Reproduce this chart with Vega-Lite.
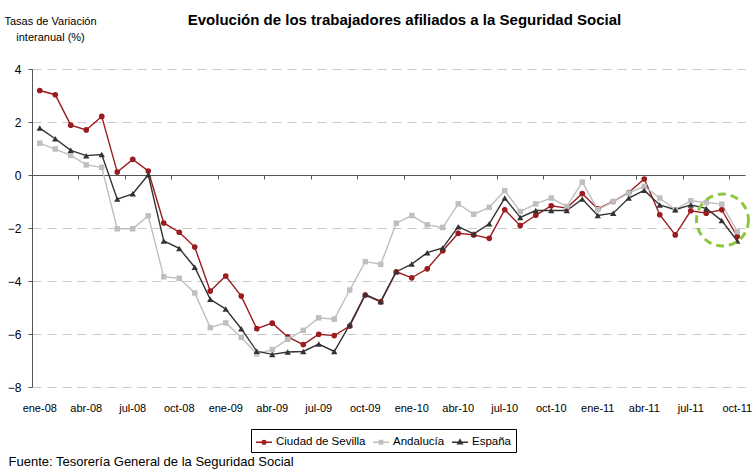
{
  "$schema": "https://vega.github.io/schema/vega-lite/v6.json",
  "autosize": "none",
  "width": 713,
  "height": 318,
  "padding": {"left": 32, "top": 69, "right": 11, "bottom": 84},
  "background": "white",
  "config": {"font": "Liberation Sans", "view": {"stroke": null}},
  "title": {
    "text": "Evolución de los trabajadores afiliados a la Seguridad Social",
    "fontSize": 15, "fontWeight": "bold", "color": "#000",
    "anchor": "middle", "frame": "group", "dx": 16, "baseline": "alphabetic", "offset": -25
  },
  "data": {
    "values": [
      {"mes": "ene-08", "Ciudad de Sevilla": 3.19, "Andalucía": 1.20, "España": 1.77},
      {"mes": "feb-08", "Ciudad de Sevilla": 3.03, "Andalucía": 0.98, "España": 1.37},
      {"mes": "mar-08", "Ciudad de Sevilla": 1.88, "Andalucía": 0.74, "España": 0.93},
      {"mes": "abr-08", "Ciudad de Sevilla": 1.70, "Andalucía": 0.38, "España": 0.73},
      {"mes": "may-08", "Ciudad de Sevilla": 2.21, "Andalucía": 0.29, "España": 0.77},
      {"mes": "jun-08", "Ciudad de Sevilla": 0.11, "Andalucía": -2.03, "España": -0.91},
      {"mes": "jul-08", "Ciudad de Sevilla": 0.59, "Andalucía": -2.03, "España": -0.71},
      {"mes": "ago-08", "Ciudad de Sevilla": 0.15, "Andalucía": -1.54, "España": 0.01},
      {"mes": "sep-08", "Ciudad de Sevilla": -1.81, "Andalucía": -3.84, "España": -2.49},
      {"mes": "oct-08", "Ciudad de Sevilla": -2.16, "Andalucía": -3.90, "España": -2.77},
      {"mes": "nov-08", "Ciudad de Sevilla": -2.72, "Andalucía": -4.45, "España": -3.48},
      {"mes": "dic-08", "Ciudad de Sevilla": -4.38, "Andalucía": -5.76, "España": -4.69},
      {"mes": "ene-09", "Ciudad de Sevilla": -3.81, "Andalucía": -5.58, "España": -5.06},
      {"mes": "feb-09", "Ciudad de Sevilla": -4.57, "Andalucía": -6.13, "España": -5.80},
      {"mes": "mar-09", "Ciudad de Sevilla": -5.80, "Andalucía": -6.75, "España": -6.65},
      {"mes": "abr-09", "Ciudad de Sevilla": -5.59, "Andalucía": -6.59, "España": -6.77},
      {"mes": "may-09", "Ciudad de Sevilla": -6.11, "Andalucía": -6.20, "España": -6.68},
      {"mes": "jun-09", "Ciudad de Sevilla": -6.40, "Andalucía": -5.86, "España": -6.66},
      {"mes": "jul-09", "Ciudad de Sevilla": -6.01, "Andalucía": -5.39, "España": -6.38},
      {"mes": "ago-09", "Ciudad de Sevilla": -6.06, "Andalucía": -5.44, "España": -6.66},
      {"mes": "sep-09", "Ciudad de Sevilla": -5.70, "Andalucía": -4.34, "España": -5.65},
      {"mes": "oct-09", "Ciudad de Sevilla": -4.53, "Andalucía": -3.27, "España": -4.51},
      {"mes": "nov-09", "Ciudad de Sevilla": -4.79, "Andalucía": -3.37, "España": -4.77},
      {"mes": "dic-09", "Ciudad de Sevilla": -3.65, "Andalucía": -1.82, "España": -3.65},
      {"mes": "ene-10", "Ciudad de Sevilla": -3.88, "Andalucía": -1.53, "España": -3.36},
      {"mes": "feb-10", "Ciudad de Sevilla": -3.54, "Andalucía": -1.88, "España": -2.93},
      {"mes": "mar-10", "Ciudad de Sevilla": -2.86, "Andalucía": -1.98, "España": -2.75},
      {"mes": "abr-10", "Ciudad de Sevilla": -2.20, "Andalucía": -1.09, "España": -1.95},
      {"mes": "may-10", "Ciudad de Sevilla": -2.26, "Andalucía": -1.48, "España": -2.22},
      {"mes": "jun-10", "Ciudad de Sevilla": -2.39, "Andalucía": -1.22, "España": -1.84},
      {"mes": "jul-10", "Ciudad de Sevilla": -1.31, "Andalucía": -0.59, "España": -0.87},
      {"mes": "ago-10", "Ciudad de Sevilla": -1.91, "Andalucía": -1.38, "España": -1.60},
      {"mes": "sep-10", "Ciudad de Sevilla": -1.52, "Andalucía": -1.09, "España": -1.34},
      {"mes": "oct-10", "Ciudad de Sevilla": -1.16, "Andalucía": -0.87, "España": -1.34},
      {"mes": "nov-10", "Ciudad de Sevilla": -1.25, "Andalucía": -1.19, "España": -1.34},
      {"mes": "dic-10", "Ciudad de Sevilla": -0.70, "Andalucía": -0.27, "España": -0.91},
      {"mes": "ene-11", "Ciudad de Sevilla": -1.28, "Andalucía": -1.31, "España": -1.53},
      {"mes": "feb-11", "Ciudad de Sevilla": -1.00, "Andalucía": -1.00, "España": -1.44},
      {"mes": "mar-11", "Ciudad de Sevilla": -0.66, "Andalucía": -0.68, "España": -0.87},
      {"mes": "abr-11", "Ciudad de Sevilla": -0.15, "Andalucía": -0.43, "España": -0.58},
      {"mes": "may-11", "Ciudad de Sevilla": -1.50, "Andalucía": -0.87, "España": -1.13},
      {"mes": "jun-11", "Ciudad de Sevilla": -2.26, "Andalucía": -1.31, "España": -1.31},
      {"mes": "jul-11", "Ciudad de Sevilla": -1.35, "Andalucía": -0.97, "España": -1.13},
      {"mes": "ago-11", "Ciudad de Sevilla": -1.44, "Andalucía": -1.04, "España": -1.26},
      {"mes": "sep-11", "Ciudad de Sevilla": -1.31, "Andalucía": -1.10, "España": -1.72},
      {"mes": "oct-11", "Ciudad de Sevilla": -2.32, "Andalucía": -2.14, "España": -2.49}
    ]
  },
  "transform": [{"fold": ["Ciudad de Sevilla", "Andalucía", "España"], "as": ["serie", "valor"]}],
  "layer": [
    {
      "mark": {"type": "line", "strokeWidth": 1.4},
      "encoding": {
        "x": {
          "field": "mes", "type": "ordinal", "sort": null,
          "scale": {"type": "band", "paddingInner": 0, "paddingOuter": 0},
          "axis": {
            "orient": "bottom", "offset": -212,
            "values": ["ene-08","abr-08","jul-08","oct-08","ene-09","abr-09","jul-09","oct-09","ene-10","abr-10","jul-10","oct-10","ene-11","abr-11","jul-11","oct-11"],
            "bandPosition": 0, "labels": false, "ticks": true, "tickSize": 4, "tickColor": "#555",
            "domain": true, "domainColor": "#555", "domainWidth": 1, "grid": false, "title": null
          }
        },
        "y": {
          "field": "valor", "type": "quantitative",
          "scale": {"domain": [-8, 4], "nice": false, "zero": false},
          "axis": {
            "values": [-8, -6, -4, -2, 0, 2, 4],
            "domain": true, "domainColor": "#555", "tickColor": "#555", "tickSize": 4,
            "labelPadding": 7, "labelFontSize": 12, "labelColor": "#000",
            "grid": true, "gridDash": [9, 6], "gridColor": "#c8c8c8",
            "title": ["Tasas de Variación", "interanual (%)"],
            "titleAngle": 0, "titleAlign": "center", "titleBaseline": "alphabetic",
            "titleX": 18, "titleY": -45, "titleFontSize": 11, "titleFontWeight": "normal",
            "titleColor": "#000", "titleLineHeight": 16
          }
        },
        "color": {
          "field": "serie", "type": "nominal",
          "scale": {"domain": ["Ciudad de Sevilla", "Andalucía", "España"], "range": ["#9b1b1e", "#bfbfbf", "#333333"]},
          "legend": {
            "orient": "none", "legendX": 219, "legendY": 360, "direction": "horizontal",
            "title": null, "strokeColor": "#000", "fillColor": "#fff", "padding": 4,
            "labelFontSize": 11.5, "labelColor": "#000", "labelOffset": 3, "columnPadding": 3,
            "symbolSize": 256, "symbolStrokeWidth": 1.6
          }
        }
      }
    },
    {
      "transform": [{"filter": "datum.valor > 100"}],
      "mark": {"type": "point", "filled": false, "opacity": 1, "strokeWidth": 1.6},
      "encoding": {
        "x": {"field": "mes", "type": "ordinal", "sort": null, "axis": null},
        "y": {"field": "valor", "type": "quantitative"},
        "color": {"field": "serie", "type": "nominal"},
        "shape": {
          "field": "serie", "type": "nominal",
          "scale": {
            "domain": ["Ciudad de Sevilla", "Andalucía", "España"],
            "range": [
              "M-1,0L1,0M0.22,0A0.22,0.22,0,1,1,-0.22,0A0.22,0.22,0,1,1,0.22,0Z",
              "M-1,0L1,0M-0.2,-0.2L0.2,-0.2L0.2,0.2L-0.2,0.2Z",
              "M-1,0L1,0M0,-0.3L0.27,0.18L-0.27,0.18Z"
            ]
          },
          "legend": null
        }
      }
    },
    {
      "transform": [{"filter": "datum.serie === 'Ciudad de Sevilla'"}],
      "mark": {"type": "point", "shape": "circle", "filled": true, "color": "#9b1b1e", "size": 32, "opacity": 1},
      "encoding": {
        "x": {
          "field": "mes", "type": "ordinal", "sort": null,
          "axis": {
            "orient": "bottom",
            "values": ["ene-08","abr-08","jul-08","oct-08","ene-09","abr-09","jul-09","oct-09","ene-10","abr-10","jul-10","oct-10","ene-11","abr-11","jul-11","oct-11"],
            "labels": true, "ticks": false, "tickSize": 0, "domain": false, "grid": false,
            "labelPadding": 15, "labelFontSize": 11, "labelColor": "#000", "labelAngle": 0, "labelOverlap": false,
            "title": "Fuente: Tesorería General de la Seguridad Social",
            "titleX": -24, "titleY": 78, "titleAlign": "left", "titleBaseline": "alphabetic",
            "titleFontSize": 13, "titleFontWeight": "normal", "titleColor": "#000"
          }
        },
        "y": {"field": "valor", "type": "quantitative"}
      }
    },
    {
      "transform": [{"filter": "datum.serie === 'Andalucía'"}],
      "mark": {"type": "point", "shape": "square", "filled": true, "color": "#bfbfbf", "size": 30, "opacity": 1},
      "encoding": {
        "x": {"field": "mes", "type": "ordinal", "sort": null, "axis": null},
        "y": {"field": "valor", "type": "quantitative"}
      }
    },
    {
      "transform": [{"filter": "datum.serie === 'España'"}],
      "mark": {"type": "point", "shape": "triangle-up", "filled": true, "color": "#333333", "size": 40, "opacity": 1},
      "encoding": {
        "x": {"field": "mes", "type": "ordinal", "sort": null, "axis": null},
        "y": {"field": "valor", "type": "quantitative"}
      }
    },
    {
      "data": {"values": [{"mes": "oct-11", "valor": -1.7}]},
      "mark": {"type": "point", "shape": "circle", "filled": false, "stroke": "#8dc63f", "strokeWidth": 3, "strokeDash": [8, 5], "size": 2700, "opacity": 1},
      "encoding": {
        "x": {"field": "mes", "type": "ordinal", "sort": null, "axis": null},
        "xOffset": {"value": -7},
        "y": {"field": "valor", "type": "quantitative"}
      }
    }
  ],
  "resolve": {"axis": {"x": "independent"}}
}
